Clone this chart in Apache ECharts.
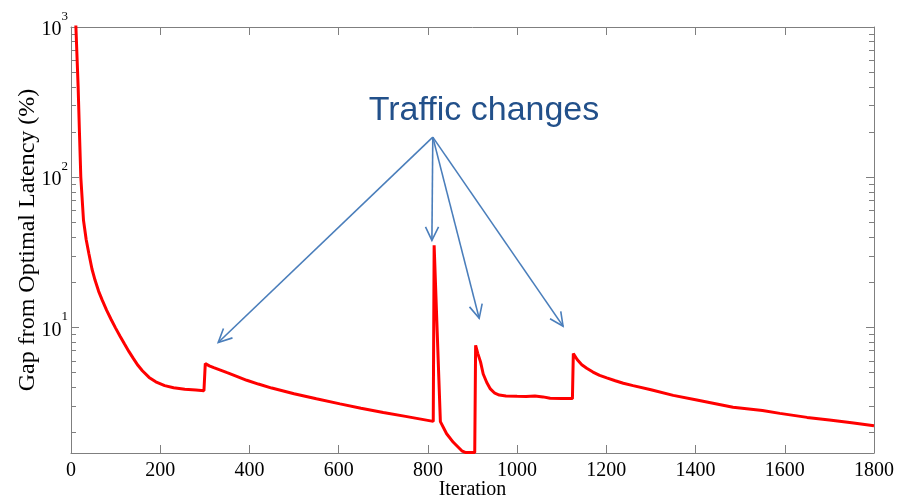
<!DOCTYPE html>
<html>
<head>
<meta charset="utf-8">
<script src="https://cdn.jsdelivr.net/npm/echarts@6/dist/echarts.min.js"></script>
<style>html,body{margin:0;padding:0;background:#fff}#c{width:915px;height:501px}</style>
</head>
<body>
<div id="c"></div>
<script>
// ---- data ----
const iterations = [0, 6, 11, 16, 19, 22, 28, 34, 40, 47, 54, 62, 70, 80, 90, 100, 110, 120, 130, 140, 150, 160,
  175, 190, 210, 230, 255, 280, 298,
  301, 310, 320, 335, 350, 370, 394, 420, 450, 500, 550, 603, 650, 700, 750, 812,
  814, 828, 842, 857, 876, 885, 905,
  907, 912, 918, 924, 932, 940, 950, 960, 975, 1000, 1020, 1040, 1058, 1074, 1100, 1124,
  1126, 1135, 1145, 1156, 1170, 1185, 1201, 1220, 1238, 1260, 1300, 1350, 1400, 1484, 1550, 1589, 1650, 1700, 1750, 1800];
const gapPercent = [7000, 2500, 1000, 400, 196, 100, 51.7, 38.5, 31.1, 24.5, 20.6, 17.4, 15.2, 13.0, 11.3, 9.9, 8.75, 7.75, 6.9, 6.2, 5.6, 5.15,
  4.65, 4.35, 4.1, 3.97, 3.88, 3.83, 3.79,
  5.75, 5.55, 5.4, 5.2, 5.0, 4.75, 4.45, 4.2, 3.95, 3.62, 3.35, 3.1, 2.9, 2.72, 2.56, 2.37,
  35.2, 2.36, 1.96, 1.72, 1.51, 1.47, 1.47,
  7.6, 6.7, 5.9, 4.9, 4.3, 3.9, 3.65, 3.55, 3.5, 3.48, 3.47, 3.5, 3.45, 3.38, 3.37, 3.36,
  6.7, 6.1, 5.65, 5.35, 5.05, 4.8, 4.62, 4.42, 4.25, 4.1, 3.85, 3.53, 3.3, 2.94, 2.8, 2.68, 2.52, 2.42, 2.32, 2.22];
const xTicks = [0, 200, 400, 600, 800, 1000, 1200, 1400, 1600, 1800];
const yMajorTicks = [10, 100, 1000];
const yMinorTicks = [2,3,4,5,6,7,8,9,20,30,40,50,60,70,80,90,200,300,400,500,600,700,800,900];
const yMin = 1.46, yMax = 1000;
const annotationText = 'Traffic changes';
// arrows: [fromIteration, fromGap, toIteration, toGap]
const arrows = [
  [811, 185, 330, 7.94],
  [811, 185, 809, 38],
  [811, 185, 915, 11.5],
  [811, 185, 1103, 10.2]
];

const serif = 'Liberation Serif, Times New Roman, serif';
const axisGray = '#7f7f7f';
const chart = echarts.init(document.getElementById('c'), null, {renderer: 'canvas'});

function yAxisDef(pos, major, showLabel) {
  return {
    type: 'log', logBase: 10, min: yMin, max: yMax, position: pos,
    axisLine: {show: major, lineStyle: {color: axisGray, width: 1}},
    axisTick: {show: true, inside: true, length: major ? 8 : 5,
      customValues: major ? yMajorTicks : yMinorTicks,
      lineStyle: {color: axisGray, width: 1}},
    axisLabel: showLabel ? {
      show: true, customValues: yMajorTicks, margin: 3, padding: [0, 0, 4, 0],
      formatter: v => '{b|10}{s|' + Math.round(Math.log10(v)) + '}',
      rich: {
        b: {fontFamily: serif, fontSize: 20, color: '#000', lineHeight: 30, verticalAlign: 'bottom'},
        s: {fontFamily: serif, fontSize: 13, color: '#000', lineHeight: 13, verticalAlign: 'top'}
      }
    } : {show: false},
    splitLine: {show: false}
  };
}

const option = {
  animation: false,
  backgroundColor: '#fff',
  grid: {left: 71, right: 41, top: 27, bottom: 48, outerBoundsMode: 'none', containLabel: false},
  xAxis: [
    {
      type: 'value', min: 0, max: 1800, interval: 200, position: 'bottom',
      name: 'Iteration', nameLocation: 'middle', nameGap: 27, nameMoveOverlap: false,
      nameTextStyle: {fontFamily: serif, fontSize: 20, color: '#000'},
      axisLine: {show: true, lineStyle: {color: axisGray}},
      axisTick: {inside: true, length: 8, lineStyle: {color: axisGray}},
      axisLabel: {fontFamily: serif, fontSize: 20, color: '#000', margin: 8,
        customValues: xTicks, formatter: v => String(v)},
      splitLine: {show: false}
    },
    {
      type: 'value', min: 0, max: 1800, interval: 200, position: 'top',
      axisLine: {show: true, lineStyle: {color: axisGray}},
      axisTick: {inside: true, length: 8, lineStyle: {color: axisGray}},
      axisLabel: {show: false},
      splitLine: {show: false}
    }
  ],
  yAxis: [
    Object.assign(yAxisDef('left', true, true), {
      name: 'Gap from Optimal Latency (%)', nameLocation: 'middle', nameGap: 31, nameMoveOverlap: false,
      nameTextStyle: {fontFamily: serif, fontSize: 24, color: '#000'}
    }),
    yAxisDef('left', false, false),
    yAxisDef('right', true, false),
    yAxisDef('right', false, false)
  ],
  graphic: [{
    type: 'text', x: 484, y: 111, silent: true,
    style: {text: annotationText, fontFamily: 'Liberation Sans, Arial, sans-serif', fontSize: 34,
      fill: '#22508a', textAlign: 'center', textVerticalAlign: 'middle'}
  }],
  series: [
    {
      type: 'line', xAxisIndex: 0, yAxisIndex: 0,
      data: iterations.map((it, i) => [it, gapPercent[i]]),
      showSymbol: false, symbol: 'none', clip: true,
      lineStyle: {color: '#ff0000', width: 3}, itemStyle: {color: '#ff0000'}, z: 3
    },
    {
      type: 'custom', xAxisIndex: 0, yAxisIndex: 0, silent: true, clip: false, z: 4,
      data: arrows,
      encode: {x: [0, 2], y: [1, 3]},
      renderItem: function (params, api) {
        const p0 = api.coord([api.value(0), api.value(1)]);
        const p1 = api.coord([api.value(2), api.value(3)]);
        const dx = p1[0] - p0[0], dy = p1[1] - p0[1];
        const len = Math.hypot(dx, dy);
        const ux = dx / len, uy = dy / len;
        const L = 15, a = 0.45;
        const c = Math.cos(a), s = Math.sin(a);
        const w1 = [p1[0] - L * (ux * c - uy * s), p1[1] - L * (uy * c + ux * s)];
        const w2 = [p1[0] - L * (ux * c + uy * s), p1[1] - L * (uy * c - ux * s)];
        const st = {stroke: '#4a7ebb', lineWidth: 1.6, fill: null};
        return {
          type: 'group',
          children: [
            {type: 'line', shape: {x1: p0[0], y1: p0[1], x2: p1[0], y2: p1[1]}, style: st},
            {type: 'polyline', shape: {points: [w1, p1, w2]}, style: st}
          ]
        };
      }
    }
  ]
};
chart.setOption(option);
</script>
</body>
</html>
